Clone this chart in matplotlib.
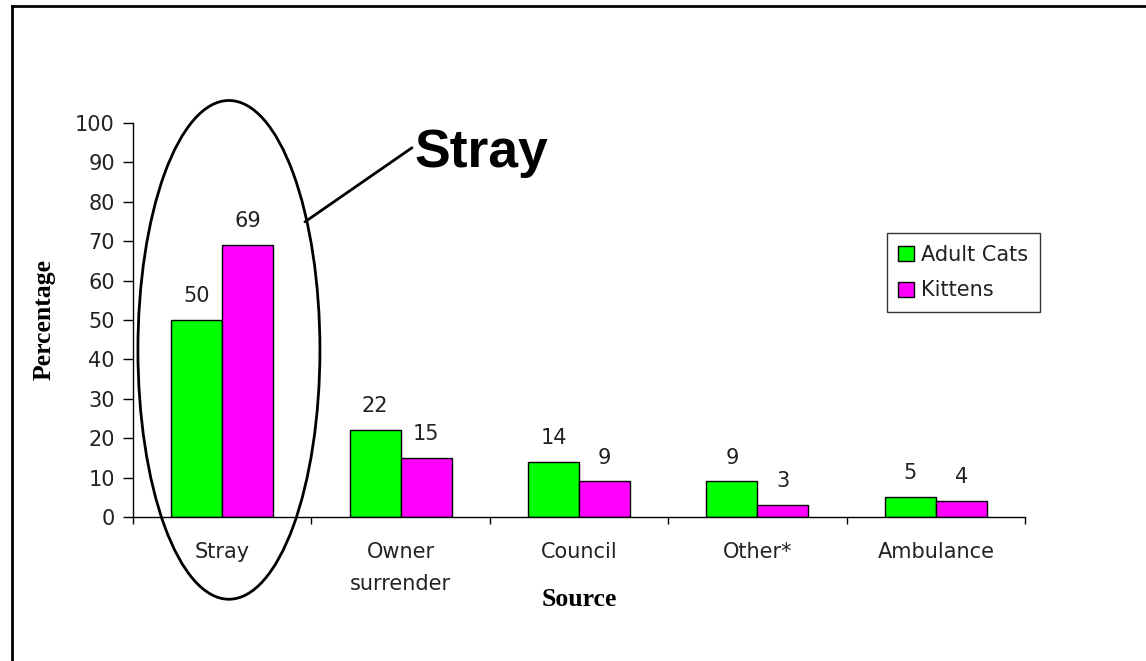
import matplotlib.pyplot as plt
import numpy as np
from matplotlib.patches import Ellipse
from matplotlib.lines import Line2D

sources = ['Stray', 'Owner\nsurrender', 'Council', 'Other*', 'Ambulance']
adult_cats = [50, 22, 14, 9, 5]
kittens = [69, 15, 9, 3, 4]
y_ticks = list(range(0, 101, 10))

fs = 15
txt = '#222222'

fig = plt.figure(figsize=(11.46, 6.61), dpi=100)
ax = fig.add_axes([0.116, 0.218, 0.7785, 0.596])

x = np.arange(len(sources))
w = 0.286
b1 = ax.bar(x - w / 2, adult_cats, w, color='#00ff00', edgecolor='black', linewidth=1, label='Adult Cats')
b2 = ax.bar(x + w / 2, kittens, w, color='#ff00ff', edgecolor='black', linewidth=1, label='Kittens')

# value labels above each bar
for bars, vals in ((b1, adult_cats), (b2, kittens)):
    for r, v in zip(bars, vals):
        ax.annotate(str(v), (r.get_x() + r.get_width() / 2, v), xytext=(0, 10),
                    textcoords='offset points', ha='center', va='bottom',
                    fontsize=fs, color=txt)

ax.set_xlim(-0.5, len(sources) - 0.5)
ax.set_ylim(0, 100)
ax.set_yticks(y_ticks)
ax.tick_params(axis='y', direction='out', length=7, width=1, labelsize=fs, pad=6, labelcolor=txt)

# boundary ticks between categories, labels at centres
ax.set_xticks(np.arange(len(sources) + 1) - 0.5)
ax.set_xticklabels([])
ax.set_xticks(x, minor=True)
ax.set_xticklabels(sources, minor=True, fontsize=fs, color=txt, linespacing=1.75)
ax.tick_params(axis='x', which='major', direction='out', length=5, width=1)
ax.tick_params(axis='x', which='minor', length=0, pad=18)
for lab in ax.get_xticklabels(minor=True):
    lab.set_va('top')

for s in ('top', 'right'):
    ax.spines[s].set_visible(False)
ax.spines['left'].set_linewidth(1)
ax.spines['bottom'].set_linewidth(1)

ax.set_ylabel('Percentage', family='Liberation Serif', fontweight='bold', fontsize=18.5, labelpad=14)
ax.set_xlabel('Source', family='Liberation Serif', fontweight='bold', fontsize=18.5, labelpad=-4)

leg = ax.legend(loc='upper left', bbox_to_anchor=(0.774, 0.647), bbox_transform=fig.transFigure,
                fontsize=fs, frameon=True, fancybox=False, edgecolor='black',
                handlelength=0.75, handleheight=0.75, handletextpad=0.35,
                borderpad=0.55, labelspacing=0.75, borderaxespad=0)
leg.get_frame().set_linewidth(1)
for t in leg.get_texts():
    t.set_color(txt)

# ellipse around the stray group and its callout
ell = Ellipse((0.038, 42.4), 1.02, 126.6, fill=False, edgecolor='black', linewidth=2, clip_on=False)
ax.add_patch(ell)
ax.annotate('', xy=(0.464, 74.9), xytext=(1.064, 93.7),
            arrowprops=dict(arrowstyle='-', color='black', linewidth=2, shrinkA=0, shrinkB=0),
            annotation_clip=False)
ax.text(1.08, 88.8, 'Stray', family='Liberation Sans', fontweight='bold', fontsize=38.5,
        ha='left', va='baseline')

# outer frame lines
fig.add_artist(Line2D([0.0105, 0.0105], [0, 0.991], transform=fig.transFigure, color='black', linewidth=2))
fig.add_artist(Line2D([0.0105, 1.0], [0.991, 0.991], transform=fig.transFigure, color='black', linewidth=2))

fig.savefig('out.png', dpi=100)
